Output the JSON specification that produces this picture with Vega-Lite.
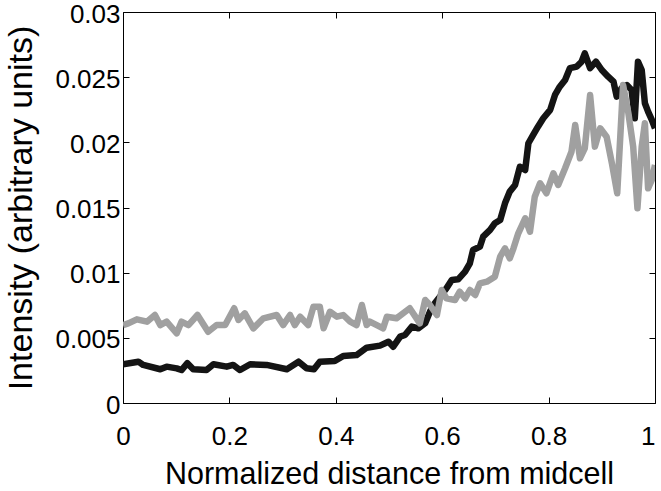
{
  "$schema": "https://vega.github.io/schema/vega-lite/v6.json",
  "width": 532,
  "height": 391,
  "autosize": {"type": "none"},
  "padding": {"left": 123, "top": 12, "right": 6, "bottom": 88},
  "background": "white",
  "config": {
    "view": {"stroke": "#000", "strokeWidth": 1},
    "font": "Liberation Sans",
    "axis": {"grid": false, "domainColor": "#000", "tickColor": "#000", "labelColor": "#000", "titleColor": "#000", "labelFont": "Liberation Sans", "titleFont": "Liberation Sans", "titleFontWeight": "normal"}
  },
  "datasets": {
    "black": [
      {"x": 0, "v": 0.00297}, {"x": 0.029, "v": 0.00317}, {"x": 0.038, "v": 0.00292}, {"x": 0.07, "v": 0.00259},
      {"x": 0.082, "v": 0.00279}, {"x": 0.101, "v": 0.00266}, {"x": 0.11, "v": 0.00253}, {"x": 0.121, "v": 0.00305},
      {"x": 0.132, "v": 0.00259}, {"x": 0.157, "v": 0.00253}, {"x": 0.17, "v": 0.00297}, {"x": 0.195, "v": 0.00279},
      {"x": 0.207, "v": 0.00292}, {"x": 0.22, "v": 0.00253}, {"x": 0.239, "v": 0.00297}, {"x": 0.27, "v": 0.00292},
      {"x": 0.308, "v": 0.00259}, {"x": 0.33, "v": 0.00317}, {"x": 0.345, "v": 0.00266}, {"x": 0.359, "v": 0.00259},
      {"x": 0.37, "v": 0.00317}, {"x": 0.398, "v": 0.00322}, {"x": 0.414, "v": 0.00361}, {"x": 0.439, "v": 0.00368},
      {"x": 0.458, "v": 0.00424}, {"x": 0.483, "v": 0.0044}, {"x": 0.499, "v": 0.0047}, {"x": 0.508, "v": 0.00432},
      {"x": 0.521, "v": 0.00509}, {"x": 0.53, "v": 0.00522}, {"x": 0.543, "v": 0.00586}, {"x": 0.555, "v": 0.00573},
      {"x": 0.568, "v": 0.00612}, {"x": 0.577, "v": 0.00701}, {"x": 0.586, "v": 0.00765}, {"x": 0.596, "v": 0.00816},
      {"x": 0.608, "v": 0.0088}, {"x": 0.618, "v": 0.00944}, {"x": 0.63, "v": 0.00949}, {"x": 0.643, "v": 0.01008},
      {"x": 0.652, "v": 0.01072}, {"x": 0.658, "v": 0.01174}, {"x": 0.671, "v": 0.012}, {"x": 0.677, "v": 0.01276},
      {"x": 0.69, "v": 0.01328}, {"x": 0.699, "v": 0.01379}, {"x": 0.709, "v": 0.01404}, {"x": 0.718, "v": 0.01532},
      {"x": 0.727, "v": 0.01622}, {"x": 0.737, "v": 0.01673}, {"x": 0.746, "v": 0.01813}, {"x": 0.756, "v": 0.01788},
      {"x": 0.762, "v": 0.01993}, {"x": 0.771, "v": 0.02057}, {"x": 0.78, "v": 0.0212}, {"x": 0.79, "v": 0.02185},
      {"x": 0.803, "v": 0.02249}, {"x": 0.812, "v": 0.02364}, {"x": 0.821, "v": 0.02427}, {"x": 0.831, "v": 0.02479},
      {"x": 0.84, "v": 0.02569}, {"x": 0.853, "v": 0.02581}, {"x": 0.862, "v": 0.02619}, {"x": 0.868, "v": 0.02683},
      {"x": 0.878, "v": 0.02569}, {"x": 0.889, "v": 0.02619}, {"x": 0.9, "v": 0.02555}, {"x": 0.912, "v": 0.02504},
      {"x": 0.922, "v": 0.02466}, {"x": 0.928, "v": 0.02351}, {"x": 0.937, "v": 0.02415}, {"x": 0.947, "v": 0.0244},
      {"x": 0.956, "v": 0.02402}, {"x": 0.962, "v": 0.02185}, {"x": 0.968, "v": 0.02619}, {"x": 0.975, "v": 0.02555},
      {"x": 0.981, "v": 0.023}, {"x": 0.987, "v": 0.02236}, {"x": 0.994, "v": 0.02172}, {"x": 1.0, "v": 0.02108}
    ],
    "gray": [
      {"x": 0, "v": 0.00598}, {"x": 0.01, "v": 0.00611}, {"x": 0.026, "v": 0.00642}, {"x": 0.045, "v": 0.00624},
      {"x": 0.06, "v": 0.00675}, {"x": 0.07, "v": 0.00598}, {"x": 0.082, "v": 0.00624}, {"x": 0.101, "v": 0.00535},
      {"x": 0.11, "v": 0.00624}, {"x": 0.123, "v": 0.00598}, {"x": 0.14, "v": 0.00675}, {"x": 0.16, "v": 0.00547},
      {"x": 0.176, "v": 0.00598}, {"x": 0.192, "v": 0.00598}, {"x": 0.209, "v": 0.00727}, {"x": 0.217, "v": 0.00637},
      {"x": 0.229, "v": 0.00688}, {"x": 0.245, "v": 0.00573}, {"x": 0.264, "v": 0.0065}, {"x": 0.289, "v": 0.00675},
      {"x": 0.301, "v": 0.00598}, {"x": 0.314, "v": 0.00675}, {"x": 0.323, "v": 0.00598}, {"x": 0.333, "v": 0.00662},
      {"x": 0.348, "v": 0.00598}, {"x": 0.358, "v": 0.00739}, {"x": 0.37, "v": 0.00739}, {"x": 0.377, "v": 0.00573},
      {"x": 0.389, "v": 0.007}, {"x": 0.402, "v": 0.00662}, {"x": 0.414, "v": 0.00675}, {"x": 0.427, "v": 0.00624},
      {"x": 0.439, "v": 0.00598}, {"x": 0.449, "v": 0.00752}, {"x": 0.458, "v": 0.00598}, {"x": 0.464, "v": 0.00624},
      {"x": 0.477, "v": 0.00598}, {"x": 0.489, "v": 0.00573}, {"x": 0.496, "v": 0.00662}, {"x": 0.514, "v": 0.0065},
      {"x": 0.539, "v": 0.00727}, {"x": 0.558, "v": 0.00611}, {"x": 0.568, "v": 0.0079}, {"x": 0.577, "v": 0.00752},
      {"x": 0.59, "v": 0.00675}, {"x": 0.599, "v": 0.00867}, {"x": 0.608, "v": 0.00803}, {"x": 0.624, "v": 0.0079},
      {"x": 0.633, "v": 0.00854}, {"x": 0.643, "v": 0.00803}, {"x": 0.652, "v": 0.00867}, {"x": 0.662, "v": 0.00829},
      {"x": 0.671, "v": 0.00918}, {"x": 0.684, "v": 0.00931}, {"x": 0.699, "v": 0.00969}, {"x": 0.709, "v": 0.01123},
      {"x": 0.718, "v": 0.01187}, {"x": 0.727, "v": 0.0111}, {"x": 0.734, "v": 0.01187}, {"x": 0.743, "v": 0.01302},
      {"x": 0.756, "v": 0.01417}, {"x": 0.765, "v": 0.01314}, {"x": 0.774, "v": 0.01583}, {"x": 0.784, "v": 0.01686},
      {"x": 0.796, "v": 0.01609}, {"x": 0.809, "v": 0.01762}, {"x": 0.818, "v": 0.01673}, {"x": 0.831, "v": 0.01801},
      {"x": 0.843, "v": 0.01928}, {"x": 0.85, "v": 0.02133}, {"x": 0.859, "v": 0.01878}, {"x": 0.868, "v": 0.01954},
      {"x": 0.878, "v": 0.02363}, {"x": 0.887, "v": 0.01967}, {"x": 0.897, "v": 0.02108}, {"x": 0.909, "v": 0.02043},
      {"x": 0.919, "v": 0.01839}, {"x": 0.929, "v": 0.01609}, {"x": 0.94, "v": 0.0244}, {"x": 0.95, "v": 0.02223},
      {"x": 0.959, "v": 0.01967}, {"x": 0.967, "v": 0.01494}, {"x": 0.975, "v": 0.01967}, {"x": 0.981, "v": 0.02146},
      {"x": 0.987, "v": 0.01647}, {"x": 0.994, "v": 0.01711}, {"x": 1.0, "v": 0.01826}
    ]
  },
  "layer": [
    {
      "data": {"name": "black"},
      "mark": {"type": "line", "color": "#141414", "strokeWidth": 6.5, "strokeJoin": "round", "strokeCap": "butt", "clip": true},
      "encoding": {
        "x": {"field": "x", "type": "quantitative", "scale": {"domain": [0, 1], "nice": false},
              "axis": {"orient": "top", "labels": false, "title": null, "values": [0, 0.2, 0.4, 0.6, 0.8, 1], "tickSize": -6, "domain": false}},
        "y": {"field": "v", "type": "quantitative", "scale": {"domain": [0, 0.03], "nice": false},
              "axis": {"orient": "right", "labels": false, "title": null, "values": [0, 0.005, 0.01, 0.015, 0.02, 0.025, 0.03], "tickSize": -6, "domain": false}}
      }
    },
    {
      "data": {"name": "gray"},
      "mark": {"type": "line", "color": "#a0a0a0", "strokeWidth": 6.5, "strokeJoin": "round", "strokeCap": "butt", "clip": true},
      "encoding": {
        "x": {"field": "x", "type": "quantitative", "scale": {"domain": [0, 1], "nice": false},
              "axis": {"orient": "bottom", "title": "Normalized distance from midcell", "values": [0, 0.2, 0.4, 0.6, 0.8, 1], "format": "~g",
                       "labelAlign": {"condition": {"test": "datum.value == 1", "value": "right"}, "value": "center"},
                       "tickSize": -6, "labelFontSize": 26, "labelPadding": 26, "labelFlush": false, "titleFontSize": 30.5, "titleBaseline": "alphabetic", "titleY": 80, "domain": false}},
        "y": {"field": "v", "type": "quantitative", "scale": {"domain": [0, 0.03], "nice": false},
              "axis": {"orient": "left", "title": "Intensity (arbitrary units)", "values": [0, 0.005, 0.01, 0.015, 0.02, 0.025, 0.03], "format": "~g",
                       "tickSize": -6, "labelFontSize": 26, "labelPadding": 9, "labelOffset": 2, "labelFlush": false, "titleFontSize": 34, "titleBaseline": "alphabetic", "titleAngle": -90, "titleX": -92, "titleY": 195.5, "titleAlign": "center", "domain": false}}
      }
    }
  ],
  "resolve": {"axis": {"x": "independent", "y": "independent"}}
}
